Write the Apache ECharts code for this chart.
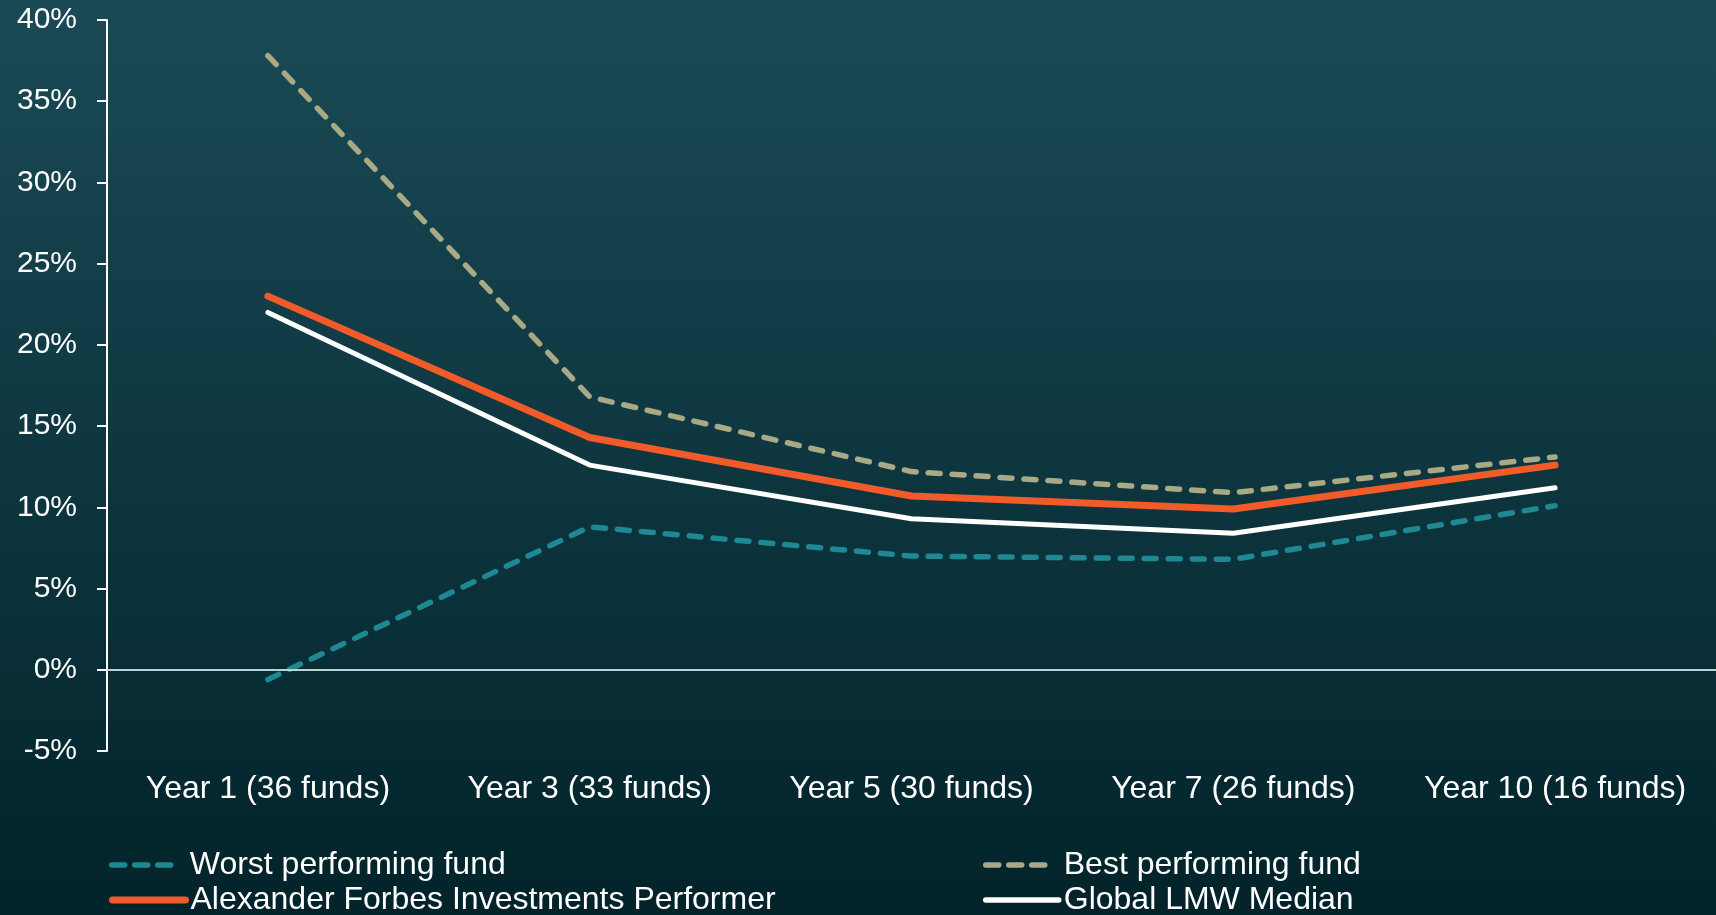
<!DOCTYPE html>
<html>
<head>
<meta charset="utf-8">
<script src="https://cdn.jsdelivr.net/npm/echarts@6/dist/echarts.min.js"></script>
<style>
  html, body { margin: 0; padding: 0; }
  #chart { width: 1716px; height: 915px; }
</style>
</head>
<body>
<div id="chart"></div>
<script>
const categories = [
  "Year 1 (36 funds)",
  "Year 3 (33 funds)",
  "Year 5 (30 funds)",
  "Year 7 (26 funds)",
  "Year 10 (16 funds)",
];
const worstFund = [-0.6, 8.8, 7.0, 6.8, 10.1];
const bestFund = [37.8, 16.8, 12.2, 10.9, 13.1];
const alexanderForbes = [23.0, 14.3, 10.7, 9.9, 12.6];
const lmwMedian = [22.0, 12.6, 9.3, 8.4, 11.2];

const FONT = "Liberation Sans, Arial, sans-serif";
const TEAL = "#1e8893";
const KHAKI = "#a9a985";
const ORANGE = "#f15a29";

const chart = echarts.init(document.getElementById("chart"));

// one legend per entry so the 2x2 layout stays put
const legendItem = (name, left, top, lineStyle) => ({
  left,
  top,
  padding: 0,
  itemWidth: 73,
  itemHeight: 2,
  itemGap: 0,
  selectedMode: false,
  textStyle: { color: "#ffffff", fontSize: 32, fontFamily: FONT },
  itemStyle: { opacity: 0, borderWidth: 0 },
  lineStyle,
  data: [name],
});

// three dashes then a long gap, like the original key
const legendDash = { width: 5.5, type: [13, 10, 13, 10, 13, 40], cap: "round" };

const option = {
  backgroundColor: new echarts.graphic.LinearGradient(0, 0, 0, 1, [
    { offset: 0, color: "#1a4a56" },
    { offset: 1, color: "#02232a" },
  ]),
  animation: false,
  grid: { left: 107, right: -7, top: 20, bottom: 164 },
  legend: [
    legendItem("Worst performing fund", 109, 849, legendDash),
    legendItem("Alexander Forbes Investments Performer", 109, 884, { width: 7, cap: "round" }),
    legendItem("Best performing fund", 983, 849, legendDash),
    legendItem("Global LMW Median", 983, 884, { width: 5.5, cap: "round" }),
  ],
  xAxis: {
    type: "category",
    data: categories,
    boundaryGap: true,
    axisLine: { show: false, onZero: false },
    axisTick: { show: false },
    axisLabel: { color: "#ffffff", fontSize: 32, fontFamily: FONT, margin: 22, interval: 0 },
    splitLine: { show: false },
  },
  yAxis: {
    type: "value",
    min: -5,
    max: 40,
    interval: 5,
    axisLine: { show: true, lineStyle: { color: "#ffffff", width: 2 } },
    axisTick: { show: true, length: 10, lineStyle: { color: "#ffffff", width: 2 } },
    axisLabel: {
      color: "#ffffff",
      fontSize: 30,
      fontFamily: FONT,
      margin: 30,
      formatter: "{value}%",
    },
    splitLine: { show: false },
  },
  series: [
    {
      name: "Worst performing fund",
      type: "line",
      data: worstFund,
      symbol: "none",
      lineStyle: { color: TEAL, width: 5.5, type: [12, 12], cap: "round", join: "round" },
      itemStyle: { color: TEAL },
      markLine: {
        silent: true,
        symbol: ["none", "none"],
        label: { show: false },
        lineStyle: { color: "#b9d4d4", width: 2, type: "solid" },
        data: [{ yAxis: 0 }],
      },
      z: 2,
    },
    {
      name: "Best performing fund",
      type: "line",
      data: bestFund,
      symbol: "none",
      lineStyle: { color: KHAKI, width: 5.5, type: [12, 12], cap: "round", join: "round" },
      itemStyle: { color: KHAKI },
      z: 2,
    },
    {
      name: "Global LMW Median",
      type: "line",
      data: lmwMedian,
      symbol: "none",
      lineStyle: { color: "#ffffff", width: 5, cap: "round" },
      itemStyle: { color: "#ffffff" },
      z: 3,
    },
    {
      name: "Alexander Forbes Investments Performer",
      type: "line",
      data: alexanderForbes,
      symbol: "none",
      lineStyle: { color: ORANGE, width: 7, cap: "round" },
      itemStyle: { color: ORANGE },
      z: 4,
    },
  ],
};

chart.setOption(option);
</script>
</body>
</html>
